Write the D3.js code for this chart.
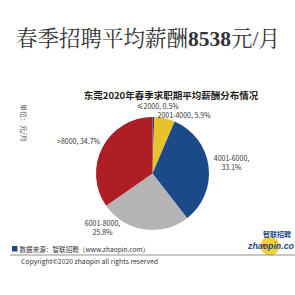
<!DOCTYPE html>
<html lang="zh">
<head>
<meta charset="UTF-8">
<title>东莞2020年春季求职期平均薪酬分布情况</title>
<script src="https://cdn.jsdelivr.net/npm/d3@7"></script>
<style>
  body { margin: 0; background: #fff; }
</style>
</head>
<body>
<div id="chart"></div>
<script>
// salary bands and shares (%)
const bands = ["≤2000", "2001-4000", "4001-6000", "6001-8000", ">8000"];
const shares = [0.5, 5.9, 33.1, 25.8, 34.7];
const colors = ["#1d3f7a", "#e9c22b", "#1b4a8b", "#b4b4b4", "#ae1f25"];

const W = 295, H = 295;
const svg = d3.select("#chart").append("svg")
  .attr("width", W).attr("height", H)
  .style("font-family", "'Noto Sans CJK SC', 'DejaVu Sans', sans-serif");

// big headline
svg.append("text")
  .attr("x", 148).attr("y", 46)
  .attr("text-anchor", "middle")
  .style("font-family", "'Liberation Serif', 'Noto Serif CJK SC', serif")
  .style("font-size", "21.5px")
  .style("fill", "#333")
  .html("春季招聘平均薪酬<tspan font-weight='bold'>8538</tspan>元/月");

// chart title
svg.append("text")
  .attr("x", 171).attr("y", 98.5)
  .attr("text-anchor", "middle")
  .style("font-size", "9.5px").style("font-weight", "bold")
  .style("fill", "#222")
  .text("东莞2020年春季求职期平均薪酬分布情况");

// unit label
svg.append("text")
  .attr("transform", "translate(21,104) rotate(90)")
  .style("font-size", "7px").style("fill", "#555")
  .text("单位：元/月");

const cx = 152.5, cy = 173.5, r = 56.5;
const pie = d3.pie().sort(null).value(d => d.v);
const data = pie(bands.map((b, i) => ({ b, v: shares[i], c: colors[i] })));
const arc = d3.arc().innerRadius(0).outerRadius(r);

const g = svg.append("g").attr("transform", `translate(${cx},${cy})`);
g.selectAll("path").data(data).join("path")
  .attr("d", arc)
  .attr("fill", d => d.data.c);

// labels (offsets from the pie centre)
const labelPos = [
  { dx: -16, dy: -64.5, anchor: "start", lines: d => [`${d.data.b}, ${d.data.v}%`] },
  { dx: 5, dy: -56, anchor: "start", lines: d => [`${d.data.b}, ${d.data.v}%`] },
  { dx: 79, dy: -13, anchor: "middle", lines: d => [`${d.data.b},`, `${d.data.v}%`] },
  { dx: -50, dy: 52, anchor: "middle", lines: d => [`${d.data.b},`, `${d.data.v}%`] },
  { dx: -74, dy: -30, anchor: "middle", lines: d => [`${d.data.b}, ${d.data.v}%`] }
];
data.forEach((d, i) => {
  const p = labelPos[i];
  const t = g.append("text")
    .attr("text-anchor", p.anchor)
    .style("font-size", "7px").style("fill", "#333");
  p.lines(d).forEach((l, j) => {
    t.append("tspan").attr("x", p.dx).attr("y", p.dy + j * 9).text(l);
  });
});

// logo
const logo = svg.append("g");
logo.append("circle").attr("cx", 270).attr("cy", 246).attr("r", 9.5).attr("fill", "#f2d23a");
logo.append("text").attr("x", 263).attr("y", 237)
  .style("font-size", "7px").style("font-weight", "bold").style("fill", "#1b4a8b").text("智联招聘");
logo.append("text").attr("x", 248).attr("y", 248.5)
  .style("font-family", "'Liberation Sans', Arial, sans-serif")
  .style("font-size", "8.8px").style("font-weight", "bold").style("font-style", "italic")
  .style("fill", "#1b4a8b").text("zhaopin.co");
logo.append("circle").attr("cx", 264).attr("cy", 245.5).attr("r", 1.6).attr("fill", "#d0232a");

// source line
svg.append("rect").attr("x", 12).attr("y", 246).attr("width", 5.5).attr("height", 5.5).attr("fill", "#1b4a8b");
svg.append("text").attr("x", 19.5).attr("y", 251.5)
  .style("font-size", "6.6px").style("fill", "#333")
  .text("数据来源：智联招聘（www.zhaopin.com）");
svg.append("line").attr("x1", 10).attr("x2", 295).attr("y1", 255).attr("y2", 255)
  .attr("stroke", "#777").attr("stroke-width", 0.8);
svg.append("text").attr("x", 21).attr("y", 264)
  .attr("textLength", 137).attr("lengthAdjust", "spacingAndGlyphs")
  .style("font-size", "6.8px").style("fill", "#333")
  .text("Copyright©2020 zhaopin all rights reserved");
</script>
</body>
</html>
